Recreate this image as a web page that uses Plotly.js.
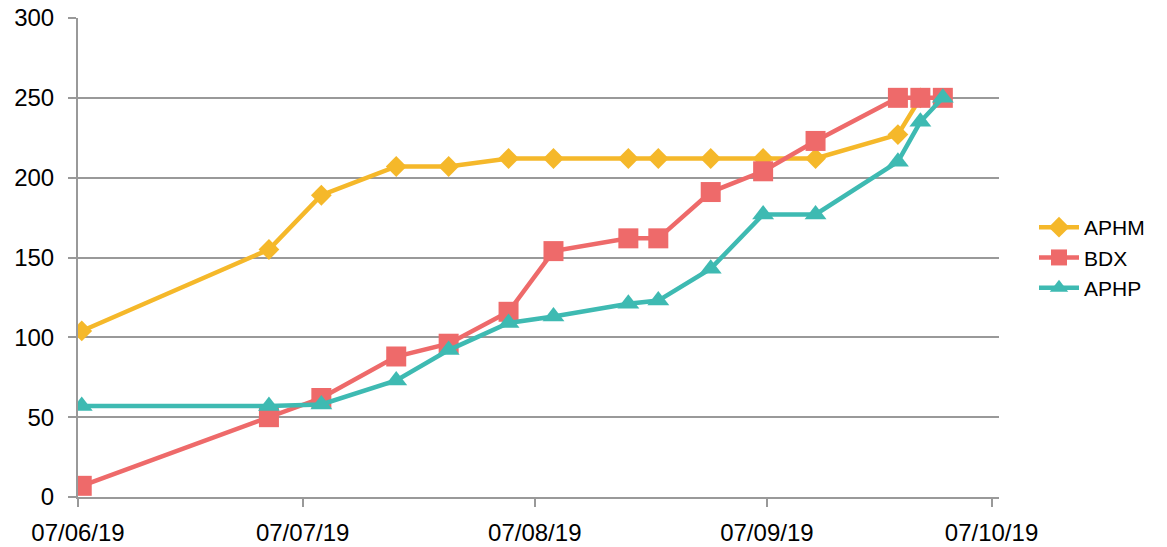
<!DOCTYPE html>
<html>
<head>
<meta charset="utf-8">
<script src="https://cdn.plot.ly/plotly-3.0.1.min.js"></script>
<style>
  body { margin: 0; background: #ffffff; }
  #chart { width: 1167px; height: 547px; }
</style>
</head>
<body>
<div id="chart"></div>
<script>
// dates (day precision), values
var aphmDates = ['2019-06-07', '2019-07-02', '2019-07-09', '2019-07-19', '2019-07-26', '2019-08-03', '2019-08-09',
                 '2019-08-19', '2019-08-23', '2019-08-30', '2019-09-06', '2019-09-13', '2019-09-24', '2019-09-27'];
var aphmValues = [104, 155, 189, 207, 207, 212, 212, 212, 212, 212, 212, 212, 227, 250];

var bdxDates = ['2019-06-07', '2019-07-02', '2019-07-09', '2019-07-19', '2019-07-26', '2019-08-03', '2019-08-09',
                '2019-08-19', '2019-08-23', '2019-08-30', '2019-09-06', '2019-09-13', '2019-09-24', '2019-09-27', '2019-09-30'];
var bdxValues = [7, 50, 62, 88, 96, 116, 154, 162, 162, 191, 204, 223, 250, 250, 250];

var aphpDates = ['2019-06-07', '2019-07-02', '2019-07-09', '2019-07-19', '2019-07-26', '2019-08-03', '2019-08-09',
                 '2019-08-19', '2019-08-23', '2019-08-30', '2019-09-06', '2019-09-13', '2019-09-24', '2019-09-27', '2019-09-30'];
var aphpValues = [57, 57, 58, 73, 92, 109, 113, 121, 123, 143, 177, 177, 210, 235, 250];

var tickDates = ['2019-06-07', '2019-07-07', '2019-08-07', '2019-09-07', '2019-10-07'];
var tickLabels = ['07/06/19', '07/07/19', '07/08/19', '07/09/19', '07/10/19'];

var FONT = 'Liberation Sans, Arial, sans-serif';

// excel draws each daily point in the middle of its day
function midDay(dates) {
	return dates.map(function(d) { return d + ' 12:00'; });
}

var traces = [{
	name: 'APHM',
	x: midDay(aphmDates),
	y: aphmValues,
	type: 'scatter',
	mode: 'lines+markers',
	line: {color: '#F5B82A', width: 4.5},
	marker: {symbol: 'diamond', size: 16, color: '#F5B82A', line: {width: 0}},
}, {
	name: 'BDX',
	x: midDay(bdxDates),
	y: bdxValues,
	type: 'scatter',
	mode: 'lines+markers',
	line: {color: '#EE6A6A', width: 4.5},
	marker: {symbol: 'square', size: 20, color: '#EE6A6A', line: {width: 0}},
}, {
	name: 'APHP',
	x: midDay(aphpDates),
	y: aphpValues,
	type: 'scatter',
	mode: 'lines+markers',
	line: {color: '#3EBAB2', width: 4.5},
	marker: {symbol: 'triangle-up', size: 19, color: '#3EBAB2', line: {width: 0}},
}];

var layout = {
	width: 1167, height: 547,
	margin: {l: 78, r: 168, t: 18, b: 50},
	paper_bgcolor: '#ffffff',
	plot_bgcolor: '#ffffff',
	font: {family: FONT, size: 24, color: '#000000'},
	xaxis: {
		type: 'date',
		range: ['2019-06-07', '2019-10-08'],
		tickvals: tickDates,
		ticktext: tickLabels,
		showgrid: false,
		zeroline: false,
		showline: true,
		linecolor: '#999999',
		linewidth: 2,
		ticks: 'outside',
		ticklen: 8,
		tickwidth: 2,
		tickcolor: '#999999',
		ticklabelstandoff: 5,
		tickfont: {family: FONT, size: 24, color: '#000000'},
	},
	yaxis: {
		range: [0, 300],
		dtick: 50,
		showgrid: true,
		gridcolor: '#999999',
		gridwidth: 2,
		zeroline: false,
		showline: true,
		linecolor: '#999999',
		linewidth: 2,
		ticks: 'outside',
		ticklen: 8,
		tickwidth: 2,
		tickcolor: '#999999',
		ticklabelstandoff: 9,
		tickfont: {family: FONT, size: 24, color: '#000000'},
	},
	showlegend: true,
	legend: {
		x: 1.038, xanchor: 'left',
		y: 0.5, yanchor: 'middle',
		font: {family: FONT, size: 21, color: '#000000'},
		bgcolor: 'rgba(0,0,0,0)',
		itemwidth: 40,
	},
};

Plotly.newPlot('chart', traces, layout, {displayModeBar: false, staticPlot: true});
</script>
</body>
</html>
